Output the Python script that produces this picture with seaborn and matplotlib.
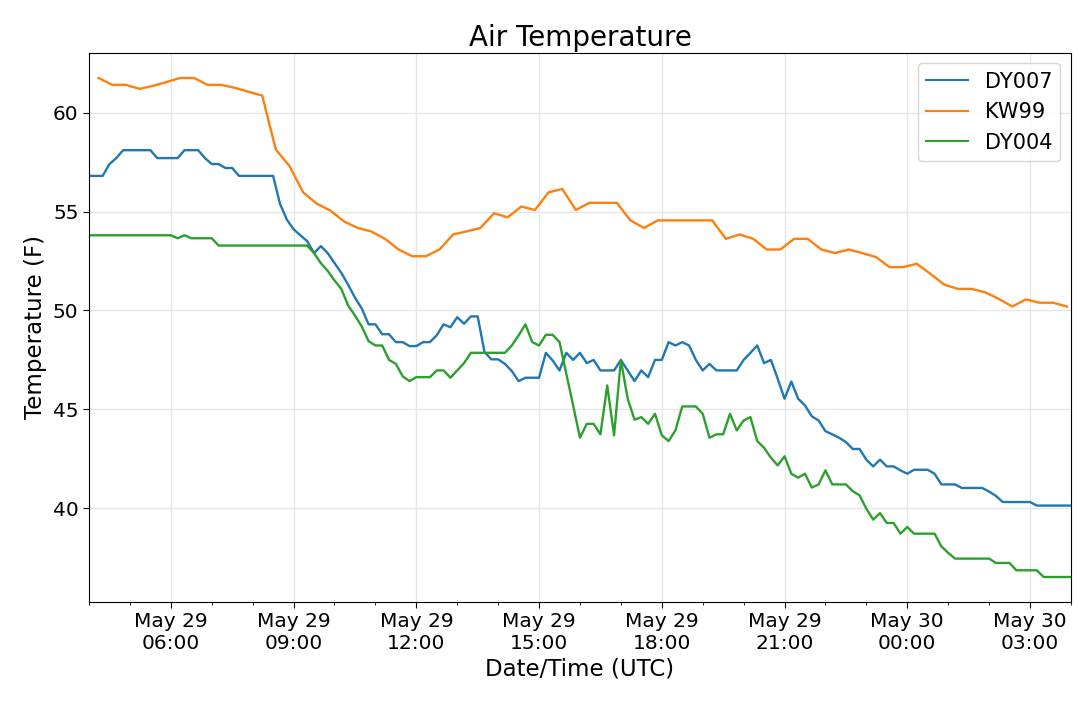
import numpy as np
import pandas as pd
import matplotlib
matplotlib.use("Agg")
import matplotlib.pyplot as plt
import matplotlib.dates as mdates
import seaborn as sns

# ---- data ----
start_main = "2019-05-29 04:00"   # DY007 / DY004 : 10-minute observations
start_kw99 = "2019-05-29 04:14"   # KW99 : 20-minute observations

dy007 = [56.8, 56.8, 56.8, 57.4, 57.7, 58.1, 58.1, 58.1, 58.1, 58.1,
         57.7, 57.7, 57.7, 57.7, 58.1, 58.1, 58.1, 57.7, 57.4, 57.4,
         57.2, 57.2, 56.8, 56.8, 56.8, 56.8, 56.8, 56.8, 55.4, 54.6,
         54.1, 53.8, 53.5, 52.9, 53.25, 52.9, 52.4, 51.9, 51.3, 50.65,
         50.1, 49.3, 49.3, 48.8, 48.8, 48.4, 48.4, 48.2, 48.2, 48.4,
         48.4, 48.75, 49.3, 49.15, 49.66, 49.33, 49.7, 49.7, 47.9, 47.53,
         47.53, 47.3, 46.94, 46.43, 46.6, 46.6, 46.6, 47.86, 47.47, 46.97,
         47.86, 47.5, 47.86, 47.34, 47.5, 46.97, 46.97, 46.97, 47.5, 46.97,
         46.43, 46.97, 46.63, 47.5, 47.5, 48.4, 48.23, 48.4, 48.23, 47.5,
         46.97, 47.3, 46.97, 46.97, 46.97, 46.97, 47.5, 47.86, 48.23, 47.34,
         47.5, 46.55, 45.54, 46.41, 45.54, 45.2, 44.65, 44.44, 43.9, 43.74,
         43.57, 43.35, 43.0, 43.0, 42.46, 42.12, 42.46, 42.12, 42.12, 41.92,
         41.75, 41.95, 41.95, 41.95, 41.75, 41.21, 41.21, 41.21, 41.03, 41.03,
         41.03, 41.03, 40.85, 40.63, 40.32, 40.32, 40.32, 40.32, 40.32, 40.14,
         40.14, 40.14, 40.14, 40.14, 40.14]

dy004 = [53.8, 53.8, 53.8, 53.8, 53.8, 53.8, 53.8, 53.8, 53.8, 53.8,
         53.8, 53.8, 53.8, 53.65, 53.8, 53.65, 53.65, 53.65, 53.65, 53.28,
         53.28, 53.28, 53.28, 53.28, 53.28, 53.28, 53.28, 53.28, 53.28, 53.28,
         53.28, 53.28, 53.28, 52.9, 52.39, 52.0, 51.52, 51.09, 50.25, 49.75,
         49.19, 48.45, 48.23, 48.23, 47.5, 47.3, 46.67, 46.43, 46.63, 46.63,
         46.63, 46.97, 46.97, 46.6, 46.97, 47.34, 47.86, 47.86, 47.86, 47.86,
         47.86, 47.86, 48.23, 48.74, 49.3, 48.4, 48.23, 48.77, 48.77, 48.4,
         46.8, 45.2, 43.57, 44.27, 44.27, 43.74, 46.21, 43.69, 47.5, 45.54,
         44.48, 44.61, 44.27, 44.78, 43.69, 43.4, 43.94, 45.15, 45.15, 45.15,
         44.78, 43.57, 43.74, 43.74, 44.78, 43.94, 44.44, 44.61, 43.4, 43.06,
         42.56, 42.17, 42.63, 41.75, 41.55, 41.75, 41.05, 41.21, 41.92, 41.21,
         41.21, 41.21, 40.87, 40.66, 39.98, 39.43, 39.76, 39.26, 39.26, 38.72,
         39.06, 38.72, 38.72, 38.72, 38.72, 38.08, 37.75, 37.46, 37.46, 37.46,
         37.46, 37.46, 37.46, 37.24, 37.24, 37.24, 36.87, 36.87, 36.87, 36.87,
         36.53, 36.53, 36.53, 36.53, 36.53]

kw99 = [61.75, 61.4, 61.4, 61.2, 61.35, 61.55, 61.75, 61.75, 61.4, 61.4,
        61.25, 61.05, 60.86, 58.13, 57.3, 55.97, 55.4, 55.05, 54.5, 54.17,
        53.99, 53.62, 53.08, 52.74, 52.74, 53.08, 53.84, 54.0, 54.17, 54.91,
        54.71, 55.25, 55.08, 55.97, 56.14, 55.08, 55.44, 55.44, 55.44, 54.55,
        54.17, 54.55, 54.55, 54.55, 54.55, 54.55, 53.62, 53.84, 53.62, 53.08,
        53.08, 53.62, 53.62, 53.08, 52.9, 53.08, 52.9, 52.7, 52.19, 52.19,
        52.36, 51.85, 51.31, 51.09, 51.09, 50.92, 50.59, 50.2, 50.56, 50.39,
        50.39, 50.2]

stations = ["DY007", "KW99", "DY004"]
colors = ["#1f77b4", "#ff7f0e", "#2ca02c"]

t_main = pd.date_range(start_main, periods=len(dy007), freq="10min")
t_kw = pd.date_range(start_kw99, periods=len(kw99), freq="20min")

df = pd.concat([
    pd.DataFrame({"time": t_main, "temp": dy007, "station": "DY007"}),
    pd.DataFrame({"time": t_kw, "temp": kw99, "station": "KW99"}),
    pd.DataFrame({"time": t_main, "temp": dy004, "station": "DY004"}),
], ignore_index=True)

# ---- plot ----
fig = plt.figure(figsize=(10.79, 7.02), dpi=100)
ax = fig.add_axes([0.0825, 0.1425, 0.910, 0.782])

sns.lineplot(data=df, x="time", y="temp", hue="station", hue_order=stations,
             palette=colors, linewidth=1.7, ax=ax, estimator=None, sort=True)

ax.set_xlim(df["time"].min(), df["time"].max())
ax.xaxis.set_major_locator(mdates.HourLocator(byhour=range(0, 24, 3)))
ax.xaxis.set_minor_locator(mdates.HourLocator())
ax.xaxis.set_major_formatter(mdates.DateFormatter("%b %d\n%H:%M"))
ax.tick_params(axis="both", which="major", labelsize=14.5, length=4)
ax.tick_params(axis="x", which="minor", length=2.5)
ax.grid(True, which="major", color="#e6e6e6", linewidth=1.0)
ax.set_axisbelow(True)

ax.set_title("Air Temperature", fontsize=20, pad=5)
ax.set_xlabel("Date/Time (UTC)", fontsize=16.5, labelpad=3)
ax.set_ylabel("Temperature (F)", fontsize=16.5)

leg = ax.legend(loc="upper right", fontsize=15, title=None)
for line in leg.get_lines():
    line.set_linewidth(1.5)

fig.savefig("out.png", dpi=100)
